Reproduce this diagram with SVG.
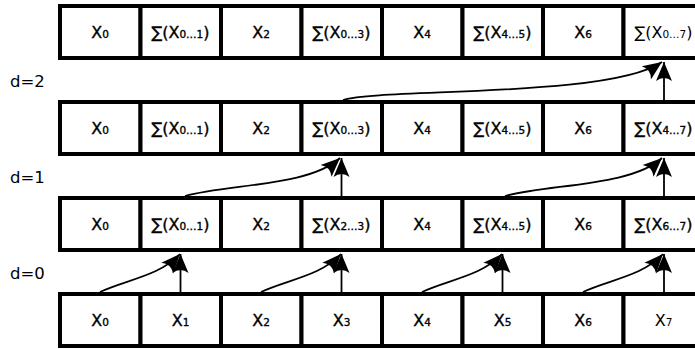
<svg xmlns="http://www.w3.org/2000/svg" width="695" height="349" viewBox="0 0 695 349">
<style>
.c{fill:#fff;stroke:#000;stroke-width:4}
.t{font-family:"DejaVu Sans",sans-serif;font-size:16px;fill:#000;stroke:#000;stroke-width:0.35;text-anchor:middle}
.s{font-size:10.5px}
.lbl{font-family:"DejaVu Sans",sans-serif;font-size:16.5px;fill:#000}
.a{fill:none;stroke:#000;stroke-width:1.8;marker-end:url(#ah)}
</style>
<defs>
<marker id="ah" markerUnits="userSpaceOnUse" markerWidth="22" markerHeight="20" viewBox="-20 -10 21 20" refX="0" refY="0" orient="auto">
<path d="M0,0 L-19,-8 Q-13,0 -19,8 Z" fill="#000"/>
</marker>
</defs>
<rect width="695" height="349" fill="#fff"/>
<text class="lbl" x="10" y="87">d=2</text>
<text class="lbl" x="10" y="183">d=1</text>
<text class="lbl" x="10" y="279">d=0</text>

<g id="row3">
<g id="r3c0"><rect class="c" x="60" y="294" width="80.5" height="52"/><text class="t" x="100" y="326">X<tspan class="s">0</tspan></text></g>
<g id="r3c1"><rect class="c" x="140.5" y="294" width="80.5" height="52"/><text class="t" x="180.5" y="326">X<tspan class="s">1</tspan></text></g>
<g id="r3c2"><rect class="c" x="221" y="294" width="80.5" height="52"/><text class="t" x="261" y="326">X<tspan class="s">2</tspan></text></g>
<g id="r3c3"><rect class="c" x="301.5" y="294" width="80.5" height="52"/><text class="t" x="341.5" y="326">X<tspan class="s">3</tspan></text></g>
<g id="r3c4"><rect class="c" x="382" y="294" width="80.5" height="52"/><text class="t" x="422" y="326">X<tspan class="s">4</tspan></text></g>
<g id="r3c5"><rect class="c" x="462.5" y="294" width="80.5" height="52"/><text class="t" x="502.5" y="326">X<tspan class="s">5</tspan></text></g>
<g id="r3c6"><rect class="c" x="543" y="294" width="80.5" height="52"/><text class="t" x="583" y="326">X<tspan class="s">6</tspan></text></g>
<g id="r3c7"><rect class="c" x="623.5" y="294" width="80.5" height="52"/><text class="t" x="663.5" y="326" style="stroke-width:0">X<tspan class="s">7</tspan></text></g>
</g>

<g id="row2">
<g id="r2c0"><rect class="c" x="60" y="198" width="80.5" height="52"/><text class="t" x="100" y="230">X<tspan class="s">0</tspan></text></g>
<g id="r2c1"><rect class="c" x="140.5" y="198" width="80.5" height="52"/><text class="t" x="180.5" y="230">∑(X<tspan class="s">0…1</tspan>)</text></g>
<g id="r2c2"><rect class="c" x="221" y="198" width="80.5" height="52"/><text class="t" x="261" y="230">X<tspan class="s">2</tspan></text></g>
<g id="r2c3"><rect class="c" x="301.5" y="198" width="80.5" height="52"/><text class="t" x="341.5" y="230">∑(X<tspan class="s">2…3</tspan>)</text></g>
<g id="r2c4"><rect class="c" x="382" y="198" width="80.5" height="52"/><text class="t" x="422" y="230">X<tspan class="s">4</tspan></text></g>
<g id="r2c5"><rect class="c" x="462.5" y="198" width="80.5" height="52"/><text class="t" x="502.5" y="230">∑(X<tspan class="s">4…5</tspan>)</text></g>
<g id="r2c6"><rect class="c" x="543" y="198" width="80.5" height="52"/><text class="t" x="583" y="230">X<tspan class="s">6</tspan></text></g>
<g id="r2c7"><rect class="c" x="623.5" y="198" width="80.5" height="52"/><text class="t" x="663.5" y="230">∑(X<tspan class="s">6…7</tspan>)</text></g>
</g>

<g id="row1">
<g id="r1c0"><rect class="c" x="60" y="102" width="80.5" height="52"/><text class="t" x="100" y="134">X<tspan class="s">0</tspan></text></g>
<g id="r1c1"><rect class="c" x="140.5" y="102" width="80.5" height="52"/><text class="t" x="180.5" y="134">∑(X<tspan class="s">0…1</tspan>)</text></g>
<g id="r1c2"><rect class="c" x="221" y="102" width="80.5" height="52"/><text class="t" x="261" y="134">X<tspan class="s">2</tspan></text></g>
<g id="r1c3"><rect class="c" x="301.5" y="102" width="80.5" height="52"/><text class="t" x="341.5" y="134">∑(X<tspan class="s">0…3</tspan>)</text></g>
<g id="r1c4"><rect class="c" x="382" y="102" width="80.5" height="52"/><text class="t" x="422" y="134">X<tspan class="s">4</tspan></text></g>
<g id="r1c5"><rect class="c" x="462.5" y="102" width="80.5" height="52"/><text class="t" x="502.5" y="134">∑(X<tspan class="s">4…5</tspan>)</text></g>
<g id="r1c6"><rect class="c" x="543" y="102" width="80.5" height="52"/><text class="t" x="583" y="134">X<tspan class="s">6</tspan></text></g>
<g id="r1c7"><rect class="c" x="623.5" y="102" width="80.5" height="52"/><text class="t" x="663.5" y="134">∑(X<tspan class="s">4…7</tspan>)</text></g>
</g>

<g id="row0">
<g id="r0c0"><rect class="c" x="60" y="6" width="80.5" height="52"/><text class="t" x="100" y="38">X<tspan class="s">0</tspan></text></g>
<g id="r0c1"><rect class="c" x="140.5" y="6" width="80.5" height="52"/><text class="t" x="180.5" y="38">∑(X<tspan class="s">0…1</tspan>)</text></g>
<g id="r0c2"><rect class="c" x="221" y="6" width="80.5" height="52"/><text class="t" x="261" y="38">X<tspan class="s">2</tspan></text></g>
<g id="r0c3"><rect class="c" x="301.5" y="6" width="80.5" height="52"/><text class="t" x="341.5" y="38">∑(X<tspan class="s">0…3</tspan>)</text></g>
<g id="r0c4"><rect class="c" x="382" y="6" width="80.5" height="52"/><text class="t" x="422" y="38">X<tspan class="s">4</tspan></text></g>
<g id="r0c5"><rect class="c" x="462.5" y="6" width="80.5" height="52"/><text class="t" x="502.5" y="38">∑(X<tspan class="s">4…5</tspan>)</text></g>
<g id="r0c6"><rect class="c" x="543" y="6" width="80.5" height="52"/><text class="t" x="583" y="38">X<tspan class="s">6</tspan></text></g>
<g id="r0c7"><rect class="c" x="623.5" y="6" width="80.5" height="52"/><text class="t" x="663.5" y="38" style="stroke-width:0">∑(X<tspan class="s">0…7</tspan>)</text></g>
</g>

<g id="connectors">
<path class="a" d="M100,292 C125,280 160,276 180,254"/>
<path class="a" d="M180.5,292 L180.5,254"/>
<path class="a" d="M261,292 C286,280 321,276 341,254"/>
<path class="a" d="M341.5,292 L341.5,254"/>
<path class="a" d="M422,292 C447,280 482,276 502,254"/>
<path class="a" d="M502.5,292 L502.5,254"/>
<path class="a" d="M583,292 C608,280 643,276 663,254"/>
<path class="a" d="M664,292 L664,254"/>

<path class="a" d="M185,196 C230,184 310,186 340,158"/>
<path class="a" d="M341.5,196 L341.5,158"/>
<path class="a" d="M505,196 C550,184 632,186 662,158"/>
<path class="a" d="M664,196 L664,158"/>

<path class="a" d="M343,100 C380,88 610,98 662,62"/>
<path class="a" d="M664,100 L664,62"/>
</g>
</svg>
